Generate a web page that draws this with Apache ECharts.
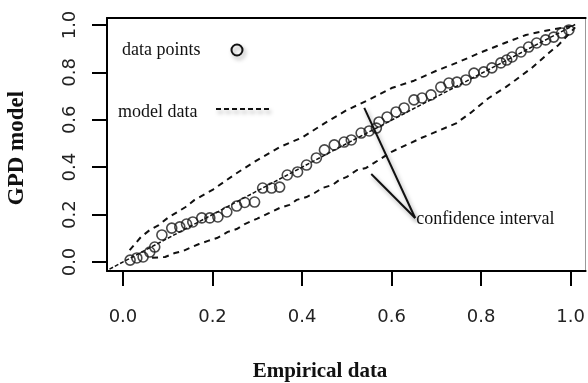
<!DOCTYPE html>
<html>
<head>
<meta charset="utf-8">
<script src="https://cdn.jsdelivr.net/npm/echarts@6/dist/echarts.min.js"></script>
<style>
html,body{margin:0;padding:0;background:#fff;}
#c{width:588px;height:383px;}
</style>
</head>
<body>
<div id="c"></div>
<script>
// ---- data ----
const pointsX = [0.016,0.031,0.045,0.060,0.071,0.087,0.109,0.127,0.142,0.156,0.176,0.194,0.212,0.232,0.254,0.272,0.294,0.312,0.332,0.350,0.367,0.390,0.410,0.432,0.450,0.472,0.494,0.510,0.532,0.550,0.566,0.572,0.590,0.610,0.628,0.650,0.668,0.688,0.710,0.728,0.746,0.766,0.784,0.806,0.824,0.844,0.857,0.869,0.889,0.906,0.924,0.944,0.962,0.980,0.996];
const pointsY = [0.008,0.017,0.021,0.042,0.063,0.114,0.143,0.148,0.160,0.169,0.186,0.186,0.190,0.211,0.236,0.251,0.253,0.312,0.312,0.316,0.367,0.380,0.409,0.439,0.473,0.494,0.506,0.515,0.544,0.553,0.565,0.591,0.612,0.633,0.650,0.684,0.692,0.705,0.738,0.755,0.759,0.768,0.797,0.802,0.819,0.840,0.852,0.865,0.886,0.907,0.924,0.937,0.949,0.966,0.979];

const modelX = [-0.03, 0.5, 1.013];
const modelY = [-0.03, 0.5, 1.005];

const upperX = [0.015,0.04,0.06,0.08,0.10,0.14,0.16,0.20,0.25,0.30,0.35,0.40,0.45,0.50,0.55,0.60,0.65,0.70,0.75,0.80,0.85,0.90,0.95,1.00,1.01];
const upperY = [0.05,0.105,0.135,0.156,0.186,0.232,0.262,0.304,0.37,0.43,0.485,0.525,0.585,0.641,0.685,0.734,0.765,0.807,0.844,0.885,0.922,0.958,0.978,0.995,1.0];

const lowerX = [0.065,0.094,0.116,0.134,0.154,0.17,0.19,0.21,0.234,0.254,0.272,0.30,0.327,0.35,0.372,0.388,0.41,0.428,0.445,0.468,0.483,0.50,0.523,0.543,0.561,0.60,0.64,0.666,0.70,0.744,0.777,0.817,0.855,0.877,0.913,0.951,0.973,1.01];
const lowerY = [0.018,0.021,0.038,0.046,0.063,0.076,0.089,0.101,0.127,0.139,0.16,0.183,0.207,0.228,0.241,0.262,0.274,0.291,0.312,0.325,0.346,0.359,0.388,0.397,0.418,0.465,0.50,0.523,0.55,0.585,0.630,0.692,0.738,0.768,0.819,0.882,0.916,0.99];

const xTicks = [0.0,0.2,0.4,0.6,0.8,1.0];
const yTicks = [0.0,0.2,0.4,0.6,0.8,1.0];

const xTitle = 'Empirical data';
const yTitle = 'GPD model';
const legendPoints = 'data points';
const legendModel = 'model data';
const ciLabel = 'confidence interval';
// annotation anchor (data coords)
const ciAnchor = [0.6526, 0.1857];
const ciTargets = [[0.539, 0.65], [0.5546, 0.371]];

const zip = (a, b) => a.map((v, i) => [v, b[i]]);

const shadow = {shadowColor:'rgba(0,0,0,0.35)', shadowBlur:4, shadowOffsetX:2, shadowOffsetY:3};

const chart = echarts.init(document.getElementById('c'), null, {renderer:'canvas'});

const bandStyle = {color:'#111', width:2, type:[6,5]};

const option = {
  animation:false,
  backgroundColor:'#fff',
  grid:{left:107, right:1, top:18, bottom:112, containLabel:false},
  xAxis:[{
    type:'value', min:-0.0356, max:1.0334, position:'bottom',
    splitLine:{show:false},
    axisLine:{show:true, onZero:false, lineStyle:{color:'#000', width:2}},
    axisTick:{show:true, inside:false, length:15, lineStyle:{color:'#000', width:2}, customValues:xTicks},
    axisLabel:{show:true, margin:37, fontFamily:'DejaVu Sans', fontSize:18, color:'#222',
      customValues:xTicks, formatter:v=>v.toFixed(1)}
  },{
    type:'value', min:-0.0356, max:1.0334, position:'top',
    splitLine:{show:false},
    axisLine:{show:true, onZero:false, lineStyle:{color:'#000', width:2}},
    axisTick:{show:false}, axisLabel:{show:false}
  }],
  yAxis:[{
    type:'value', min:-0.038, max:1.0295, position:'left',
    splitLine:{show:false},
    axisLine:{show:true, onZero:false, lineStyle:{color:'#000', width:2}},
    axisTick:{show:true, inside:false, length:15, lineStyle:{color:'#000', width:2}, customValues:yTicks},
    axisLabel:{show:true, rotate:90, margin:28, fontFamily:'DejaVu Sans', fontSize:18, color:'#222',
      customValues:yTicks, formatter:v=>v.toFixed(1)}
  },{
    type:'value', min:-0.038, max:1.0295, position:'right',
    splitLine:{show:false},
    axisLine:{show:true, onZero:false, lineStyle:{color:'#999', width:1}},
    axisTick:{show:false}, axisLabel:{show:false}
  }],
  series:[
    {name:'upper', type:'line', data:zip(upperX, upperY), showSymbol:false, symbol:'none',
      lineStyle:bandStyle, z:2},
    {name:'lower', type:'line', data:zip(lowerX, lowerY), showSymbol:false, symbol:'none',
      lineStyle:bandStyle, z:2},
    {name:legendModel, type:'line', data:zip(modelX, modelY), showSymbol:false, symbol:'none',
      lineStyle:{color:'#111', width:1.5, type:[4,2]}, z:3},
    {name:legendPoints, type:'scatter', data:zip(pointsX, pointsY), symbol:'circle', symbolSize:10,
      itemStyle:{color:'rgba(0,0,0,0)', borderColor:'#1a1a1a', borderWidth:1.6}, z:4}
  ],
  graphic:[
    {id:'ytitle', type:'text', x:17, y:148, rotation:Math.PI/2,
      style:Object.assign({text:yTitle, font:'bold 23px "Liberation Serif"', fill:'#111', align:'center', verticalAlign:'middle'}, shadow)},
    {id:'xtitle', type:'text', x:320, y:372,
      style:Object.assign({text:xTitle, font:'bold 21px "Liberation Serif"', fill:'#111', align:'center', verticalAlign:'middle'}, shadow)},
    {id:'lg1t', type:'text', x:122, y:50,
      style:Object.assign({text:legendPoints, font:'18px "Liberation Serif"', fill:'#111', align:'left', verticalAlign:'middle'}, shadow)},
    {id:'lg1c', type:'circle', shape:{cx:237, cy:50, r:5.5},
      style:Object.assign({fill:'none', stroke:'#111', lineWidth:2}, shadow)},
    {id:'lg2t', type:'text', x:118, y:112,
      style:Object.assign({text:legendModel, font:'18px "Liberation Serif"', fill:'#111', align:'left', verticalAlign:'middle'}, shadow)},
    {id:'lg2l', type:'line', shape:{x1:216, y1:109, x2:269, y2:109},
      style:Object.assign({stroke:'#111', lineWidth:2, lineDash:[5,3]}, shadow)}
  ]
};
chart.setOption(option);

const a = chart.convertToPixel({gridIndex:0}, ciAnchor);
const t1 = chart.convertToPixel({gridIndex:0}, ciTargets[0]);
const t2 = chart.convertToPixel({gridIndex:0}, ciTargets[1]);
chart.setOption({graphic:[
  {id:'ci1', type:'line', shape:{x1:a[0], y1:a[1], x2:t1[0], y2:t1[1]},
    style:Object.assign({stroke:'#111', lineWidth:2}, shadow), z:10},
  {id:'ci2', type:'line', shape:{x1:a[0], y1:a[1], x2:t2[0], y2:t2[1]},
    style:Object.assign({stroke:'#111', lineWidth:2}, shadow), z:10},
  {id:'cit', type:'text', x:a[0]+1, y:a[1]+1,
    style:Object.assign({text:ciLabel, font:'18px "Liberation Serif"', fill:'#111', align:'left', verticalAlign:'middle'}, shadow)}
]});
</script>
</body>
</html>
